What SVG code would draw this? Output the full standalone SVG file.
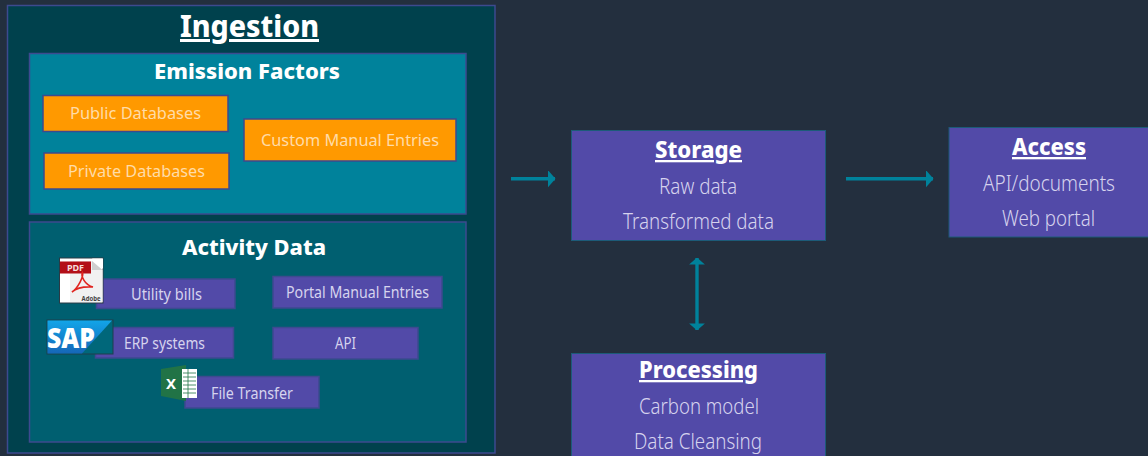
<svg xmlns="http://www.w3.org/2000/svg" width="1148" height="456" viewBox="0 0 1148 456">
<style>
text{font-family:"Noto Sans","Liberation Sans",sans-serif;text-anchor:middle}
.t{fill:#fff;font-weight:800}
.u{text-decoration:underline}
.box{stroke:#3d4a8f;stroke-width:1.5}
.o{fill:#ff9900;stroke:#3d4a8f;stroke-width:1.5}
.ot{fill:#ffdca8;font-size:17px;font-weight:400}
.p{fill:#524aa8;stroke:#3d4a8f;stroke-width:1.5}
.m{fill:#524aa8;stroke:#1c5b78;stroke-width:1}
.pt{fill:#d6d3ee;font-size:16px}
.mt{fill:#d6d3ee;font-size:21px;font-weight:300}
.c{stroke:#00829b;stroke-width:3.4;fill:none}
</style>
<defs>
<marker id="ah" viewBox="0 0 8 18" refX="7.5" refY="9" markerWidth="8" markerHeight="18" markerUnits="userSpaceOnUse" orient="auto-start-reverse"><path d="M0 0L8 9L0 18Z" fill="#00829b"/></marker>
<marker id="ahv" viewBox="0 0 8 18" refX="7.5" refY="9" markerWidth="7" markerHeight="18" markerUnits="userSpaceOnUse" orient="auto-start-reverse"><path d="M0 0L8 9L0 18Z" fill="#00829b"/></marker>
<linearGradient id="sapg" x1="0" y1="0" x2="0" y2="1"><stop offset="0" stop-color="#12a5e8"/><stop offset="1" stop-color="#1566b8"/></linearGradient>
</defs>
<rect width="1148" height="456" fill="#232f3e"/>
<g id="ingestion">
<rect class="box" x="7.5" y="5.5" width="487.5" height="447.5" fill="#00414d"/>
<text class="t u" x="249.500" y="37" font-size="30" textLength="139" lengthAdjust="spacingAndGlyphs">Ingestion</text>
</g>
<g id="emission-factors">
<rect class="box" x="29.500" y="53.500" width="436.500" height="160.500" fill="#00829b"/>
<text class="t" x="247" y="79" font-size="22" textLength="186" lengthAdjust="spacingAndGlyphs">Emission Factors</text>
</g>
<g id="public-databases"><rect class="o" x="43" y="95.500" width="185" height="36"/><text class="ot" x="135.500" y="119" textLength="131" lengthAdjust="spacingAndGlyphs">Public Databases</text></g>
<g id="private-databases"><rect class="o" x="44" y="153" width="185" height="36"/><text class="ot" x="136.500" y="176.500" textLength="137" lengthAdjust="spacingAndGlyphs">Private Databases</text></g>
<g id="custom-manual-entries"><rect class="o" x="244" y="119" width="212" height="42"/><text class="ot" x="350" y="146" textLength="178" lengthAdjust="spacingAndGlyphs">Custom Manual Entries</text></g>
<g id="activity-data">
<rect class="box" x="29.500" y="222" width="436.500" height="220" fill="#005f70"/>
<text class="t" x="254" y="255" font-size="22" textLength="144" lengthAdjust="spacingAndGlyphs">Activity Data</text>
</g>
<g id="utility-bills"><rect class="p" x="96.500" y="279" width="138.500" height="29.500"/><text class="pt" x="166.500" y="300" textLength="71" lengthAdjust="spacingAndGlyphs">Utility bills</text></g>
<g id="erp-systems"><rect class="p" x="95.500" y="327.500" width="138" height="30.500"/><text class="pt" x="164.500" y="349" textLength="81" lengthAdjust="spacingAndGlyphs">ERP systems</text></g>
<g id="file-transfer"><rect class="p" x="185" y="376.500" width="134" height="31.500"/><text class="pt" x="252" y="398.500" textLength="82" lengthAdjust="spacingAndGlyphs">File Transfer</text></g>
<g id="portal-manual-entries"><rect class="p" x="273" y="276.500" width="169" height="31.500"/><text class="pt" x="357.500" y="298" textLength="143" lengthAdjust="spacingAndGlyphs">Portal Manual Entries</text></g>
<g id="api"><rect class="p" x="273" y="327.500" width="145" height="31.500"/><text class="pt" x="345.500" y="349" textLength="21" lengthAdjust="spacingAndGlyphs">API</text></g>
<g id="pdf-icon">
<rect x="59.500" y="258" width="43.500" height="45" fill="#fff" stroke="#2a3a45" stroke-width="1"/>
<path d="M70 261H92L102.500 270V302H70Z" fill="#f1f1f1"/>
<path d="M92 258.500L103 269V258.500Z" fill="#fff"/>
<path d="M92 261L102.500 270H92Z" fill="#cfcfcf"/>
<rect x="60" y="261.500" width="31" height="12" fill="#b30f18"/>
<text x="75.500" y="270.800" font-size="9" font-weight="700" fill="#f4dcdc">PDF</text>
<path d="M72 292C78 288 84 276 82.500 272.500C80.500 276 85 285 93 287C86 286.500 77 287.500 72 292Z" fill="none" stroke="#e0241f" stroke-width="1.600"/>
<text x="91" y="300.500" font-size="7" font-weight="700" fill="#444" textLength="19" lengthAdjust="spacingAndGlyphs">Adobe</text>
</g>
<g id="sap-icon">
<rect x="47" y="320" width="66" height="34" fill="#00677a" stroke="#1f3f4c" stroke-width="1"/>
<path d="M47.500 320.500H112L82 353.500H47.500Z" fill="url(#sapg)"/>
<text x="71" y="348" font-size="29" font-weight="900" fill="#fff" textLength="48" lengthAdjust="spacingAndGlyphs">SAP</text>
</g>
<g id="excel-icon">
<path d="M161 369L186 365V401L161 396Z" fill="#217346"/>
<rect x="182" y="369" width="15" height="29" fill="#fff"/>
<path d="M183 373H196M183 377H196M183 381H196M183 385H196M183 389H196M183 393H196M188 369V398" stroke="#217346" stroke-width=".8" fill="none"/>
<text x="171" y="389" font-size="15" font-weight="700" fill="#fff">X</text>
</g>
<g id="storage">
<rect class="m" x="571.500" y="130.500" width="254" height="110"/>
<text class="t u" x="698.500" y="158" font-size="23" textLength="87" lengthAdjust="spacingAndGlyphs">Storage</text>
<text class="mt" x="698" y="194" textLength="78" lengthAdjust="spacingAndGlyphs">Raw data</text>
<text class="mt" x="698.500" y="229" textLength="151" lengthAdjust="spacingAndGlyphs">Transformed data</text>
</g>
<g id="access">
<rect class="m" x="949" y="127.500" width="202" height="109.500"/>
<text class="t u" x="1049" y="155" font-size="23" textLength="74" lengthAdjust="spacingAndGlyphs">Access</text>
<text class="mt" x="1049" y="191" textLength="132" lengthAdjust="spacingAndGlyphs">API/documents</text>
<text class="mt" x="1048.500" y="226" textLength="93" lengthAdjust="spacingAndGlyphs">Web portal</text>
</g>
<g id="processing">
<rect class="m" x="571.500" y="353.500" width="254" height="106"/>
<text class="t u" x="698.500" y="378" font-size="23" textLength="119" lengthAdjust="spacingAndGlyphs">Processing</text>
<text class="mt" x="699" y="414" textLength="120" lengthAdjust="spacingAndGlyphs">Carbon model</text>
<text class="mt" x="698" y="449" textLength="128" lengthAdjust="spacingAndGlyphs">Data Cleansing</text>
</g>
<g id="connectors">
<path class="c" d="M511 178.800H555" marker-end="url(#ah)"/>
<path class="c" d="M846 178.800H933" marker-end="url(#ah)"/>
<path class="c" d="M697 258V330" marker-start="url(#ahv)" marker-end="url(#ahv)"/>
</g>
</svg>
